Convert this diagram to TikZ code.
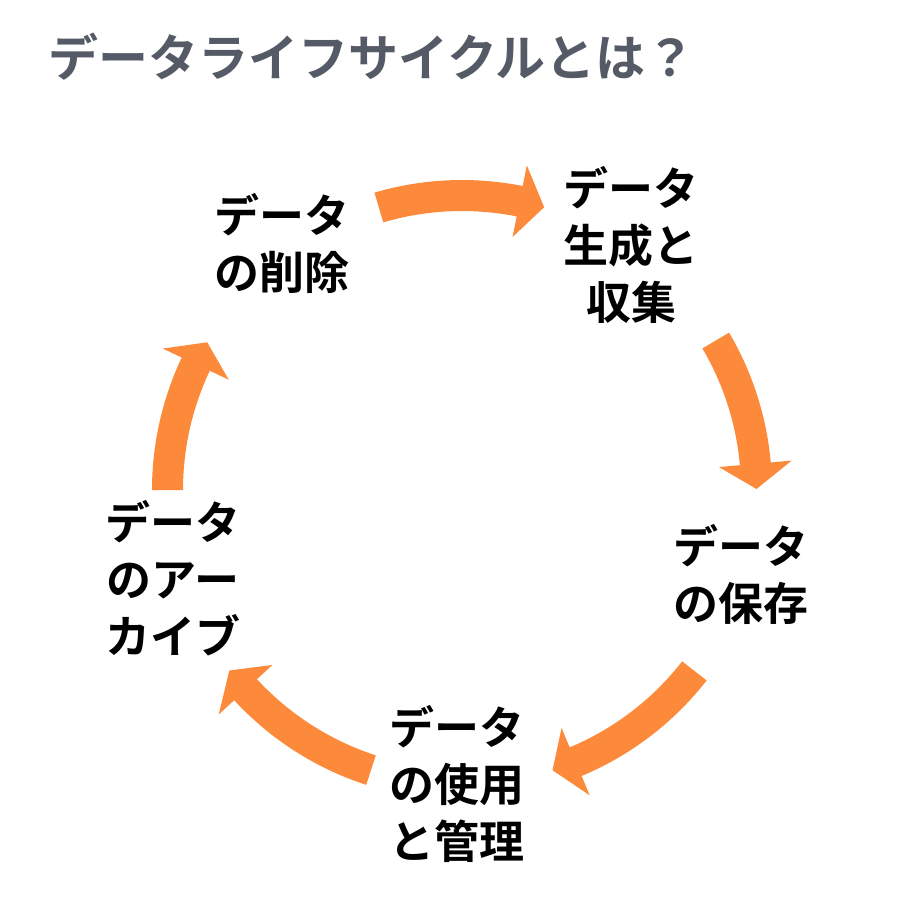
\documentclass[tikz,border=0pt]{standalone}
\usepackage{fontspec}
\newfontfamily\jpbold[BoldFont={Noto Sans CJK JP Bold}]{Noto Sans CJK JP}
\definecolor{arroworange}{HTML}{FD8A3A}
\definecolor{titlegray}{HTML}{555B66}
\newcommand{\cycarrow}[3]{%
  \fill[arroworange]
    ([shift={(462pt,-490pt)}]#1:310pt) arc[start angle=#1, end angle=#2, radius=310pt]
    -- ([shift={(462pt,-490pt)}]#2:331pt)
    -- ([shift={(462pt,-490pt)}]#3:294.5pt)
    -- ([shift={(462pt,-490pt)}]#2:258pt)
    -- ([shift={(462pt,-490pt)}]#2:279pt)
    arc[start angle=#2, end angle=#1, radius=279pt] -- cycle;}
\tikzset{
  steplabel/.style={align=center, inner sep=0pt, text=black,
    font=\jpbold\bfseries\fontsize{45pt}{57pt}\selectfont},
  titletext/.style={anchor=west, inner sep=0pt, text=titlegray,
    font=\jpbold\bfseries\fontsize{50pt}{58pt}\selectfont}
}
\begin{document}
\begin{tikzpicture}
\useasboundingbox (0pt,0pt) rectangle (922pt,-902pt);
\fill[white] (0pt,0pt) rectangle (922pt,-902pt);
\node[titletext] (title) at (48pt,-57pt) {データライフサイクルとは？};
\node[steplabel] (create) at (631pt,-245pt) {データ\\生成と\\収集};
\node[steplabel] (store) at (741pt,-574pt) {データ\\の保存};
\node[steplabel] (use) at (457pt,-784pt) {データ\\の使用\\と管理};
\node[steplabel] (archive) at (173pt,-578pt) {データ\\のアー\\カイブ};
\node[steplabel] (delete) at (282pt,-243pt) {データ\\の削除};
\cycarrow{106.4}{78.7}{73.8}
\cycarrow{30.5}{5.1}{0.2}
\cycarrow{-37.9}{-67.3}{-72.1}
\cycarrow{-108}{-137.3}{-142.2}
\cycarrow{180}{154.7}{149.9}
\end{tikzpicture}
\end{document}
